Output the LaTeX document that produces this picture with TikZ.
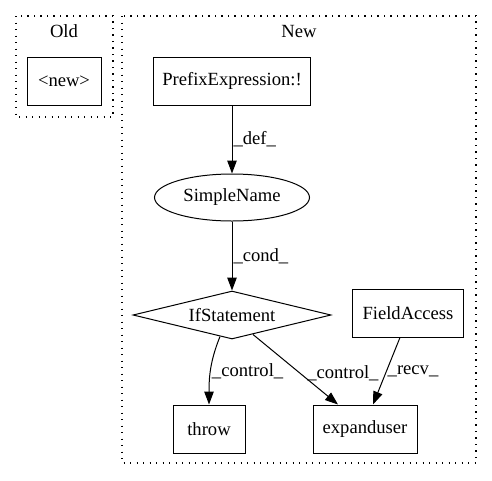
\documentclass[tikz,border=0pt]{standalone}
\usepackage{fontspec}
\setmainfont{Liberation Serif}
\usetikzlibrary{positioning}
\usetikzlibrary{arrows.meta,shapes.geometric}

\newcommand{\gvfont}{\fontsize{18.6pt}{22pt}\selectfont}

\tikzset{
  txt/.style={font=\gvfont},
  box/.style={txt, draw, rectangle, line width=1pt, minimum height=48pt, inner sep=0pt},
  oval/.style={txt, draw, ellipse, line width=1pt, minimum width=155pt, minimum height=47pt, inner sep=0pt},
  cond/.style={txt, draw, diamond, line width=1pt, aspect=4.1, minimum width=198pt, minimum height=48pt, inner sep=0pt},
  edge/.style={-{Triangle[length=13pt,width=9.5pt]}, line width=1pt},
  lbl/.style={txt, inner sep=1pt},
  cluster/.style={dash pattern=on 1.3pt off 5.2pt, line width=1.3pt},
}

\begin{document}
\begin{tikzpicture}[x=1pt,y=-1pt]
    \useasboundingbox (0,0) rectangle (492,480);

    \draw[cluster] (16,16) rectangle (113,117);
    \node(oldt) [txt] at (64,31) {Old};
    \node(nw) [box, minimum width=74pt] at (64,81) {\textless new\textgreater};

    \draw[cluster] (122,16) rectangle (476,463);
    \node(newt) [txt] at (299,31) {New};

    \node(pre) [box, minimum width=157pt] at (232,81) {PrefixExpression:!};
    \node(sn) [oval, below=68pt of pre] {SimpleName};
    \node(ifs) [cond, below=69pt of sn] {IfStatement};
    \node(fa) [box, minimum width=111pt] at (408,313) {FieldAccess};
    \node(thr) [box, minimum width=72pt] at (209,429) {throw};
    \node(exp) [box, minimum width=104pt] at (365,429) {expanduser};

    \draw[edge](pre) -- node[lbl, right] {\_def\_} (sn);
    \draw[edge](sn) -- node[lbl, right] {\_cond\_} (ifs);
    \draw[edge]([xshift=-12pt,yshift=3pt]ifs.south) to[out=-112,in=90] node[lbl, right, pos=0.53] {\_control\_} (thr.north);
    \draw[edge]([xshift=21pt,yshift=5pt]ifs.south) -- node[lbl, right=6pt, pos=0.55] {\_control\_} ([xshift=-27pt]exp.north);
    \draw[edge]([xshift=-8pt]fa.south) -- node[lbl, right, pos=0.51] {\_recv\_} ([xshift=8pt]exp.north);
  \end{tikzpicture}
\end{document}
